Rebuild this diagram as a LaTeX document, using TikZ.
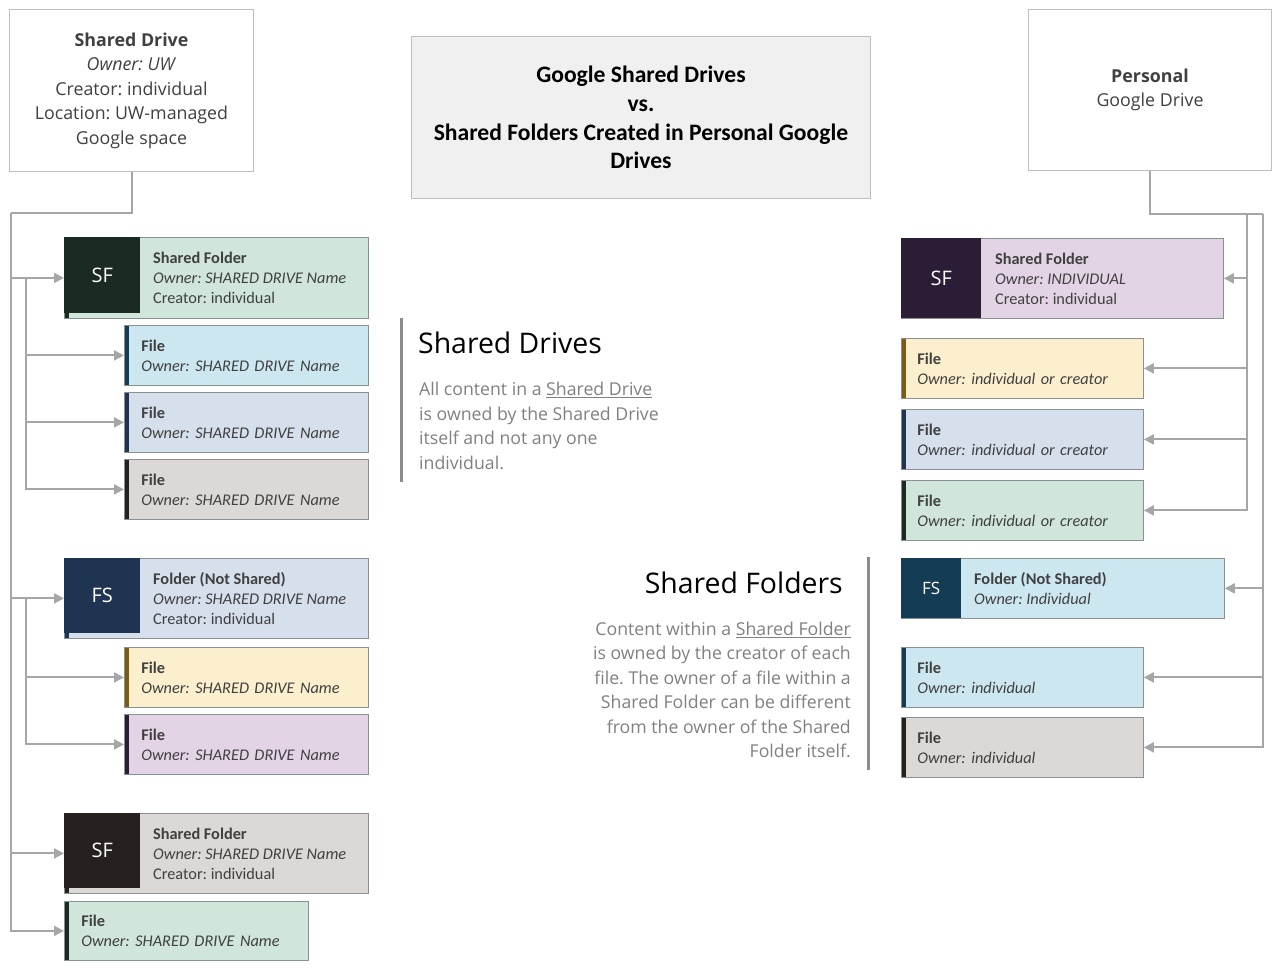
\documentclass[tikz,border=0pt]{standalone}
\usepackage{fontspec}
\setmainfont{Carlito}
\newfontfamily\segoe{Open Sans}
\frenchspacing
\usetikzlibrary{arrows.meta,calc}
\definecolor{WireClr}{HTML}{A6A6A6}
\definecolor{EdgeClr}{HTML}{BFBFBF}
\definecolor{BorderClr}{HTML}{8A8F93}
\definecolor{TextClr}{HTML}{404040}
\definecolor{NoteClr}{HTML}{808080}
\definecolor{BarClr}{HTML}{8C8C8C}
\definecolor{TitleFillClr}{HTML}{F0F0F0}
\definecolor{GreenClr}{HTML}{D0E6DB}
\definecolor{GreenDarkClr}{HTML}{1B2A22}
\definecolor{BlueClr}{HTML}{CDE7F1}
\definecolor{BlueDarkClr}{HTML}{143D55}
\definecolor{SteelClr}{HTML}{D6DFEC}
\definecolor{SteelDarkClr}{HTML}{1F3451}
\definecolor{GreyClr}{HTML}{DCD8D5}
\definecolor{GreyDarkClr}{HTML}{26211F}
\definecolor{SandClr}{HTML}{FCEFCE}
\definecolor{SandDarkClr}{HTML}{7B5A12}
\definecolor{LilacClr}{HTML}{E2D3E5}
\definecolor{LilacDarkClr}{HTML}{2B1D36}

\begin{document}
\begin{tikzpicture}[x=1pt,y=-1pt,
  wire/.style={draw=WireClr,line width=2pt},
  feed/.style={wire,-{Triangle[length=10pt,width=10pt]}},
  topbox/.style={draw=EdgeClr,line width=1pt,fill=white,anchor=north west,inner sep=0pt,
    align=center,text=TextClr,font=\segoe\fontsize{17.8}{24.5}\selectfont},
  card/.style 2 args={draw=BorderClr,line width=0.8pt,fill=#1,anchor=north west,inner sep=0pt,
    path picture={\fill[#2] (path picture bounding box.north west)
      rectangle ([xshift=5pt]path picture bounding box.south west);}},
  lfile/.style={minimum width=244pt,minimum height=60pt,text width=210pt,inner xsep=17pt,
    align=left,text=TextClr,font=\fontsize{16.3}{20}\selectfont},
  rfile/.style={minimum width=242pt,minimum height=60pt,text width=210pt,inner xsep=16pt,
    align=left,text=TextClr,font=\fontsize{16.3}{20}\selectfont},
  badge/.style={fill=#1,anchor=north west,inner sep=0pt,text=white,
    font=\segoe\fontsize{20}{24}\selectfont},
  cardtext/.style={anchor=west,inner sep=0pt,align=left,text=TextClr,
    font=\fontsize{16.3}{20}\selectfont},
  heading/.style={inner sep=0pt,text=black,font=\segoe\fontsize{28.4}{32}\selectfont},
  note/.style={inner sep=0pt,text=NoteClr,font=\segoe\fontsize{17.7}{24.5}\selectfont}]
\useasboundingbox (0,0) rectangle (1280,970);

% Top row.
\node[topbox,minimum width=244pt,minimum height=162pt] (sd) at (9,9)
  {\textbf{Shared Drive}\\ \textit{Owner: UW}\\ Creator: individual\\ Location: UW-managed\\ Google space};
\node[topbox,fill=TitleFillClr,minimum width=459pt,minimum height=162pt,text=black,
  font=\bfseries\fontsize{23.6}{28.7}\selectfont] (title) at (411,36)
  {Google Shared Drives\\ vs.\\ Shared Folders Created in Personal Google\\ Drives};
\node[topbox,minimum width=243pt,minimum height=161pt] (pd) at (1028,9)
  {\textbf{Personal}\\ Google Drive};

% Shared drive side.
\node[card={GreenClr}{GreenDarkClr},minimum width=304pt,minimum height=81pt] (sf1) at (64,237) {};
\node[badge=GreenDarkClr,minimum width=76pt,minimum height=76pt] (sf1 b) at (sf1.north west) {SF};
\node[cardtext] (sf1 t) at ([xshift=89pt]sf1.west)
  {\textbf{Shared Folder}\\ \textit{Owner: SHARED DRIVE Name}\\ Creator: individual};
\node[card={BlueClr}{BlueDarkClr},lfile] (f1) at (124,325) {\textbf{File}\\ \textit{Owner: SHARED DRIVE Name}};
\node[card={SteelClr}{SteelDarkClr},lfile] (f2) at (124,392) {\textbf{File}\\ \textit{Owner: SHARED DRIVE Name}};
\node[card={GreyClr}{GreyDarkClr},lfile] (f3) at (124,459) {\textbf{File}\\ \textit{Owner: SHARED DRIVE Name}};

\node[card={SteelClr}{SteelDarkClr},minimum width=304pt,minimum height=80pt] (fs1) at (64,558) {};
\node[badge=SteelDarkClr,minimum width=76pt,minimum height=75pt] (fs1 b) at (fs1.north west) {FS};
\node[cardtext] (fs1 t) at ([xshift=89pt]fs1.west)
  {\textbf{Folder (Not Shared)}\\ \textit{Owner: SHARED DRIVE Name}\\ Creator: individual};
\node[card={SandClr}{SandDarkClr},lfile] (f4) at (124,647) {\textbf{File}\\ \textit{Owner: SHARED DRIVE Name}};
\node[card={LilacClr}{LilacDarkClr},lfile] (f5) at (124,714) {\textbf{File}\\ \textit{Owner: SHARED DRIVE Name}};

\node[card={GreyClr}{GreyDarkClr},minimum width=304pt,minimum height=80pt] (sf2) at (64,813) {};
\node[badge=GreyDarkClr,minimum width=76pt,minimum height=75pt] (sf2 b) at (sf2.north west) {SF};
\node[cardtext] (sf2 t) at ([xshift=89pt]sf2.west)
  {\textbf{Shared Folder}\\ \textit{Owner: SHARED DRIVE Name}\\ Creator: individual};
\node[card={GreenClr}{GreenDarkClr},lfile,minimum width=243pt,minimum height=59pt] (f6) at (64,901)
  {\textbf{File}\\ \textit{Owner: SHARED DRIVE Name}};

% Personal drive side.
\node[card={LilacClr}{LilacDarkClr},minimum width=322pt,minimum height=80pt] (sf3) at (901,238) {};
\node[badge=LilacDarkClr,minimum width=80pt,minimum height=80pt] (sf3 b) at (sf3.north west) {SF};
\node[cardtext] (sf3 t) at ([xshift=94pt]sf3.west)
  {\textbf{Shared Folder}\\ \textit{Owner: INDIVIDUAL}\\ Creator: individual};
\node[card={SandClr}{SandDarkClr},rfile] (rf1) at (901,338) {\textbf{File}\\ \textit{Owner: individual or creator}};
\node[card={SteelClr}{SteelDarkClr},rfile] (rf2) at (901,409) {\textbf{File}\\ \textit{Owner: individual or creator}};
\node[card={GreenClr}{GreenDarkClr},rfile] (rf3) at (901,480) {\textbf{File}\\ \textit{Owner: individual or creator}};

\node[card={BlueClr}{BlueDarkClr},minimum width=323pt,minimum height=60pt] (fs2) at (901,558) {};
\node[badge=BlueDarkClr,minimum width=60pt,minimum height=60pt,font=\segoe\fontsize{17}{20}\selectfont]
  (fs2 b) at (fs2.north west) {FS};
\node[cardtext] (fs2 t) at ([xshift=73pt]fs2.west)
  {\textbf{Folder (Not Shared)}\\ \textit{Owner: Individual}};
\node[card={BlueClr}{BlueDarkClr},rfile] (rf4) at (901,647) {\textbf{File}\\ \textit{Owner: individual}};
\node[card={GreyClr}{GreyDarkClr},rfile] (rf5) at (901,717) {\textbf{File}\\ \textit{Owner: individual}};

% Notes.
\draw[BarClr,line width=3pt] (401,318) -- (401,482);
\node[heading,anchor=west] (sdh) at (418,343) {Shared Drives};
\node[note,anchor=west,align=left] (sdn) at (419,426)
  {All content in a \underline{Shared Drive}\\ is owned by the Shared Drive\\ itself and not any one\\ individual.};
\draw[BarClr,line width=3pt] (868,557) -- (868,770);
\node[heading,anchor=east] (sfh) at (843,583) {Shared Folders};
\node[note,anchor=east,align=right] (sfn) at (851,690)
  {Content within a \underline{Shared Folder}\\ is owned by the creator of each\\ file. The owner of a file within a\\
   Shared Folder can be different\\ from the owner of the Shared\\ Folder itself.};

% Connectors, shared drive.
\coordinate (jl) at (11,213);
\coordinate (bl) at (26,0);
\draw[wire] (sd.south) |- (jl);
\draw[feed] (jl) |- (f6.west);
\draw[feed] (jl |- sf1.west) -- (sf1.west);
\draw[feed] (jl |- fs1.west) -- (fs1.west);
\draw[feed] (jl |- sf2.west) -- (sf2.west);
\draw[feed] (bl |- sf1.west) |- (f3.west);
\draw[feed] (bl |- f1.west) -- (f1.west);
\draw[feed] (bl |- f2.west) -- (f2.west);
\draw[feed] (bl |- fs1.west) |- (f5.west);
\draw[feed] (bl |- f4.west) -- (f4.west);

% Connectors, personal drive.
\coordinate (jr) at (1263,214);
\coordinate (br) at (1247,214);
\draw[wire] (pd.south) |- (jr);
\draw[feed] (jr) |- (rf5.east);
\draw[feed] (jr |- fs2.east) -- (fs2.east);
\draw[feed] (jr |- rf4.east) -- (rf4.east);
\draw[feed] (br) |- (rf3.east);
\draw[feed] (br |- sf3.east) -- (sf3.east);
\draw[feed] (br |- rf1.east) -- (rf1.east);
\draw[feed] (br |- rf2.east) -- (rf2.east);

\end{tikzpicture}
\end{document}
